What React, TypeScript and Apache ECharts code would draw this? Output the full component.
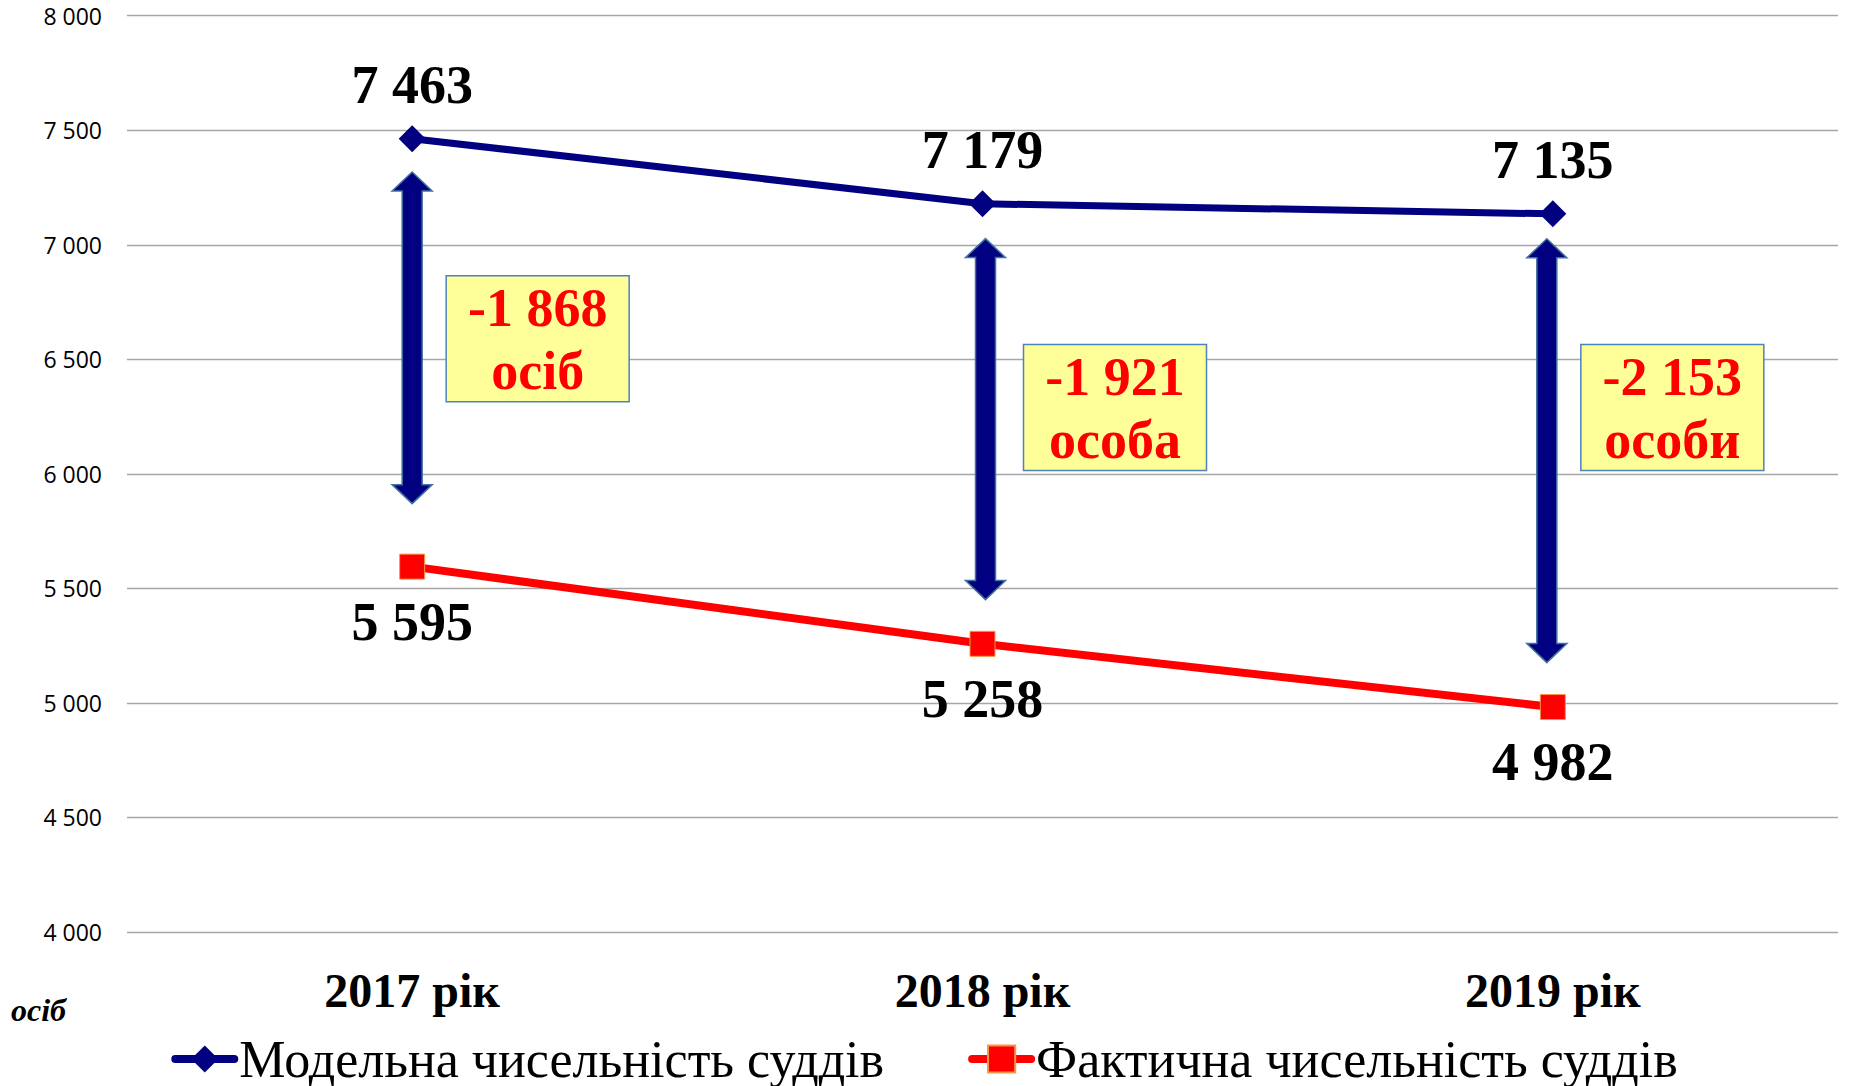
import React, { useEffect, useRef } from "react";
import * as echarts from "echarts";

const categories = ["2017 рік", "2018 рік", "2019 рік"];
const modelJudges = [7463, 7179, 7135];
const actualJudges = [5595, 5258, 4982];
const yMin = 4000;
const yMax = 8000;
const yStep = 500;
const arrowTop = [7318, 7027, 7026];
const arrowBottom = [5870, 5451, 5176];
const boxTop = [6865, 6565, 6565];
const diffUnits = ["осіб", "особа", "особи"];
const seriesNames = ["Модельна чисельність суддів", "Фактична чисельність суддів"];

// small horizontal nudges of the annotation arrows (px), as in the reference drawing
const arrowNudge = [0, 3, -6];
const boxNudge = [34, 38, 34];

const fmt = (v: number) => {
  const s = Math.abs(v).toString().replace(/\B(?=(\d{3})+(?!\d))/g, " ");
  return v < 0 ? "-" + s : s;
};

const SERIF = '"Liberation Serif", "Times New Roman", serif';

export default function App() {
  const ref = useRef<HTMLDivElement>(null);
  useEffect(() => {
    if (!ref.current) return;
    const chart = echarts.init(ref.current, null, { renderer: "svg" });
    const option: any = {
      animation: false,
      backgroundColor: "#ffffff",
      grid: { left: 127, right: 11, top: 15.7, bottom: 154, containLabel: false },
      xAxis: {
        type: "category",
        data: categories,
        boundaryGap: true,
        axisLine: { show: false },
        axisTick: { show: false },
        axisLabel: {
          margin: 34,
          color: "#000",
          fontFamily: SERIF,
          fontWeight: "bold",
          fontSize: 48,
        },
      },
      yAxis: {
        type: "value",
        min: yMin,
        max: yMax,
        interval: yStep,
        axisLine: { show: false },
        axisTick: { show: false },
        splitLine: { lineStyle: { color: "#a6a6a6", width: 1.3 } },
        axisLabel: {
          margin: 25,
          color: "#000",
          fontFamily: '"Open Sans", sans-serif',
          fontSize: 23,
          formatter: (v: number) => fmt(v),
        },
      },
      legend: {
        data: seriesNames,
        top: 1028,
        left: "center",
        itemWidth: 59,
        itemHeight: 34,
        itemGap: 84,
        lineStyle: { width: 8, cap: "round" },
        textStyle: { fontFamily: SERIF, fontSize: 52, color: "#000", lineHeight: 52 },
      },
      graphic: [
        {
          type: "text",
          left: 11,
          top: 994,
          style: {
            text: "осіб",
            font: 'italic bold 32px "Liberation Serif"',
            fill: "#000",
          },
        },
      ],
      series: [
        {
          name: "arrows",
          type: "custom",
          encode: { x: 0, y: [1, 2] },
          data: categories.map((_, i) => [i, arrowTop[i], arrowBottom[i]]),
          z: 1,
          renderItem: (params: any, api: any) => {
            const i = params.dataIndex;
            const top = api.coord([api.value(0), api.value(1)]);
            const bot = api.coord([api.value(0), api.value(2)]);
            const x = top[0] + arrowNudge[i];
            const yt = top[1];
            const yb = bot[1];
            const hl = 19;
            const hw = 20;
            const sw = 10;
            return {
              type: "polygon",
              shape: {
                points: [
                  [x, yt],
                  [x + hw, yt + hl],
                  [x + sw, yt + hl],
                  [x + sw, yb - hl],
                  [x + hw, yb - hl],
                  [x, yb],
                  [x - hw, yb - hl],
                  [x - sw, yb - hl],
                  [x - sw, yt + hl],
                  [x - hw, yt + hl],
                ],
              },
              style: { fill: "#000080", stroke: "#41719C", lineWidth: 1.5 },
            };
          },
        },
        {
          name: "boxes",
          type: "custom",
          encode: { x: 0, y: 1 },
          data: categories.map((_, i) => [i, boxTop[i]]),
          z: 3,
          renderItem: (params: any, api: any) => {
            const i = params.dataIndex;
            const p = api.coord([api.value(0), api.value(1)]);
            const bx = p[0] + arrowNudge[i] + boxNudge[i];
            const by = p[1];
            const bw = 183;
            const bh = 126;
            const diff = actualJudges[i] - modelJudges[i];
            return {
              type: "group",
              children: [
                {
                  type: "rect",
                  shape: { x: bx, y: by, width: bw, height: bh },
                  style: { fill: "#FFFF99", stroke: "#4F81BD", lineWidth: 1.5 },
                },
                {
                  type: "text",
                  style: {
                    text: fmt(diff) + "\n" + diffUnits[i],
                    x: bx + bw / 2,
                    y: by + bh / 2 + 1,
                    align: "center",
                    verticalAlign: "middle",
                    fill: "#FF0000",
                    fontFamily: SERIF,
                    fontWeight: "bold",
                    fontSize: 54,
                    lineHeight: 63,
                  },
                },
              ],
            };
          },
        },
        {
          name: seriesNames[0],
          type: "line",
          data: modelJudges,
          z: 5,
          symbol: "diamond",
          symbolSize: 27,
          itemStyle: { color: "#000080" },
          lineStyle: { color: "#000080", width: 7 },
          label: {
            show: true,
            position: "top",
            distance: 13,
            formatter: (p: any) => fmt(p.value),
            color: "#000",
            fontFamily: SERIF,
            fontWeight: "bold",
            fontSize: 54,
          },
        },
        {
          name: seriesNames[1],
          type: "line",
          data: actualJudges,
          z: 5,
          symbol: "rect",
          symbolSize: 25,
          itemStyle: { color: "#FF0000", borderColor: "#F79646", borderWidth: 1 },
          lineStyle: { color: "#FF0000", width: 8 },
          label: {
            show: true,
            position: "bottom",
            distance: 15,
            formatter: (p: any) => fmt(p.value),
            color: "#000",
            fontFamily: SERIF,
            fontWeight: "bold",
            fontSize: 54,
          },
        },
      ],
    };
    chart.setOption(option);
    return () => chart.dispose();
  }, []);
  return (
    <div
      ref={ref}
      style={{ position: "fixed", left: 0, top: 0, width: 1849, height: 1086, background: "#fff" }}
    />
  );
}
